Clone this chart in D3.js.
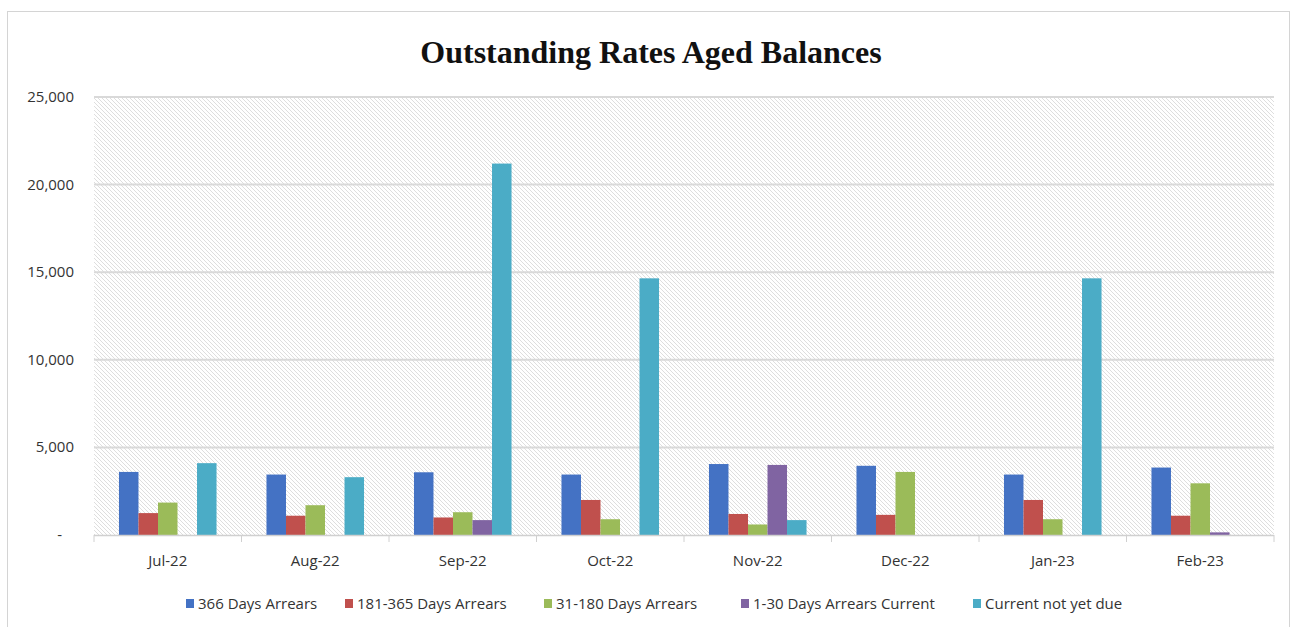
<!DOCTYPE html>
<html>
<head>
<meta charset="utf-8">
<script src="https://cdn.jsdelivr.net/npm/d3@7"></script>
<style>
  body { margin: 0; background: #fff; }
  svg { display: block; }
</style>
</head>
<body>
<svg id="chart" width="1296" height="627"></svg>
<script>
// data
const months = ["Jul-22", "Aug-22", "Sep-22", "Oct-22", "Nov-22", "Dec-22", "Jan-23", "Feb-23"];
const seriesNames = ["366 Days Arrears", "181-365 Days Arrears", "31-180 Days Arrears", "1-30 Days Arrears Current", "Current not yet due"];
const days366 = [3600, 3450, 3580, 3450, 4050, 3950, 3450, 3850];
const days181 = [1250, 1100, 1000, 2000, 1200, 1150, 2000, 1100];
const days31 = [1850, 1700, 1300, 900, 600, 3600, 900, 2950];
const days1 = [0, 0, 850, 0, 4000, 0, 0, 150];
const notDue = [4100, 3300, 21200, 14650, 850, 0, 14650, 0];
const yTicks = [0, 5000, 10000, 15000, 20000, 25000];
const colors = ["#4472c4", "#c0504d", "#9bbb59", "#8064a2", "#4bacc6"];

const allSeries = [days366, days181, days31, days1, notDue];

const svg = d3.select("#chart");
const plot = { left: 94, right: 1274, top: 97, bottom: 535 };

// chart frame
svg.append("rect")
  .attr("x", 7.5).attr("y", 11.5)
  .attr("width", 1282).attr("height", 640)
  .attr("fill", "#fff")
  .attr("stroke", "#d4d4d4");

// hatch for plot area
const defs = svg.append("defs");
const pat = defs.append("pattern")
  .attr("id", "hatch")
  .attr("patternUnits", "userSpaceOnUse")
  .attr("width", 4).attr("height", 4);
pat.append("rect").attr("width", 4).attr("height", 4).attr("fill", "#fff");
pat.append("path")
  .attr("d", "M-1,-1 L5,5 M-1,3 L1,5 M3,-1 L5,1")
  .attr("stroke", "#dedede")
  .attr("stroke-width", 1);

const x0 = d3.scaleBand().domain(months).range([plot.left, plot.right]);
const x1 = d3.scaleBand().domain(d3.range(seriesNames.length))
  .range([0, x0.bandwidth()]).paddingOuter(1.28);
const y = d3.scaleLinear().domain([0, 25000]).range([plot.bottom, plot.top]);

svg.append("rect")
  .attr("x", plot.left).attr("y", plot.top)
  .attr("width", plot.right - plot.left).attr("height", plot.bottom - plot.top)
  .attr("fill", "url(#hatch)");

// gridlines
svg.append("g")
  .selectAll("line")
  .data(yTicks.slice(1))
  .join("line")
  .attr("x1", plot.left).attr("x2", plot.right)
  .attr("y1", d => y(d)).attr("y2", d => y(d))
  .attr("stroke", "#d9d9d9")
  .attr("stroke-width", 2);

// y labels
const fmt = d => d === 0 ? "-" : d3.format(",")(d);
svg.append("g")
  .selectAll("text")
  .data(yTicks)
  .join("text")
  .attr("x", d => d === 0 ? 62 : 74)
  .attr("y", d => y(d) + 5)
  .attr("text-anchor", "end")
  .attr("font-family", "'Open Sans', sans-serif")
  .attr("font-size", 15)
  .attr("fill", "#333")
  .text(fmt);

// bars
const groups = svg.append("g")
  .selectAll("g")
  .data(months)
  .join("g")
  .attr("transform", d => `translate(${x0(d)},0)`);

groups.selectAll("rect")
  .data((m, i) => allSeries.map((s, k) => ({ k, v: s[i] })))
  .join("rect")
  .attr("x", d => x1(d.k))
  .attr("width", x1.bandwidth())
  .attr("y", d => y(d.v))
  .attr("height", d => plot.bottom - y(d.v))
  .attr("fill", d => colors[d.k]);

// x axis
const xAxis = svg.append("g");
xAxis.append("line")
  .attr("x1", plot.left).attr("x2", plot.right)
  .attr("y1", plot.bottom + 0.5).attr("y2", plot.bottom + 0.5)
  .attr("stroke", "#d0d0d0").attr("stroke-width", 1.5);
xAxis.selectAll("line.tick")
  .data(months.concat(["end"]))
  .join("line")
  .attr("class", "tick")
  .attr("x1", (d, i) => plot.left + i * x0.bandwidth())
  .attr("x2", (d, i) => plot.left + i * x0.bandwidth())
  .attr("y1", plot.bottom).attr("y2", plot.bottom + 7)
  .attr("stroke", "#d0d0d0");
xAxis.selectAll("text")
  .data(months)
  .join("text")
  .attr("x", d => x0(d) + x0.bandwidth() / 2)
  .attr("y", 566)
  .attr("text-anchor", "middle")
  .attr("font-family", "'Open Sans', sans-serif")
  .attr("font-size", 15)
  .attr("fill", "#333")
  .text(d => d);

// title
svg.append("text")
  .attr("x", 651).attr("y", 63)
  .attr("text-anchor", "middle")
  .attr("font-family", "'Liberation Serif', serif")
  .attr("font-weight", "bold")
  .attr("font-size", 32)
  .attr("fill", "#111")
  .text("Outstanding Rates Aged Balances");

// legend
const legendX = [186, 345, 544, 741, 973];
const legend = svg.append("g")
  .selectAll("g")
  .data(seriesNames)
  .join("g")
  .attr("transform", (d, i) => `translate(${legendX[i]},604)`);
legend.append("rect")
  .attr("x", 0).attr("y", -5)
  .attr("width", 8).attr("height", 9)
  .attr("fill", (d, i) => colors[i]);
legend.append("text")
  .attr("x", 12).attr("y", 5)
  .attr("font-family", "'Open Sans', sans-serif")
  .attr("font-size", 15)
  .attr("fill", "#333")
  .text(d => d);
</script>
</body>
</html>
